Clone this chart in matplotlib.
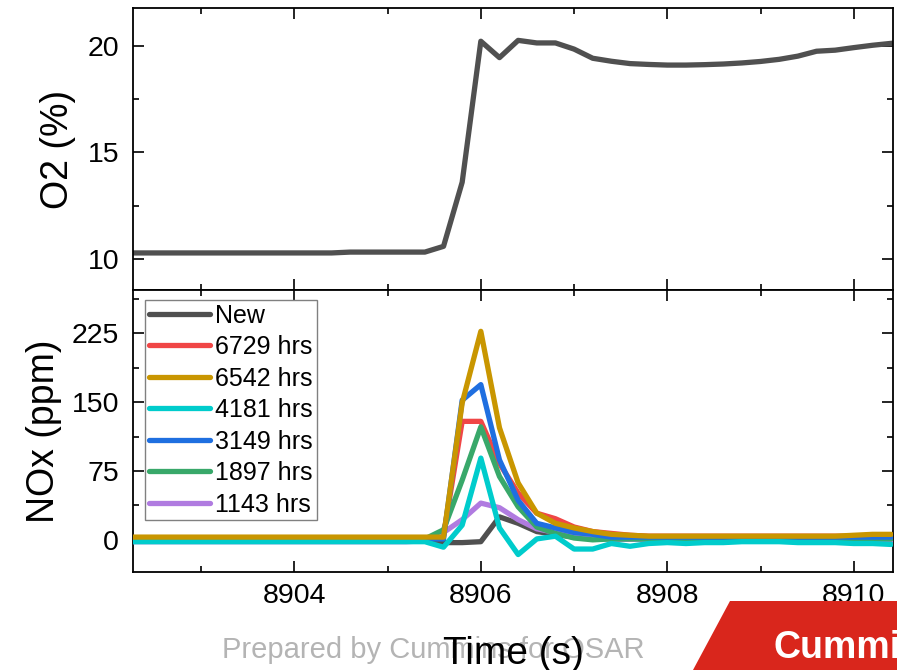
import numpy as np
import matplotlib.pyplot as plt
from matplotlib.ticker import MultipleLocator
from matplotlib.patches import Polygon

plt.rcParams['font.family'] = ['Liberation Sans', 'DejaVu Sans']

# time axis, 5 Hz samples
time = np.round(np.arange(8902.2, 8910.5, 0.2), 1)

o2 = [10.28] * 12 + [10.32] * 5 + [
    10.59, 13.6, 20.22, 19.45, 20.26, 20.14, 20.14, 19.85, 19.42, 19.28,
    19.17, 19.13, 19.1, 19.1, 19.12, 19.15, 19.2, 19.27, 19.37, 19.52,
    19.75, 19.8, 19.92, 20.03, 20.12]

nox_new = [0] * 17 + [-3, -3, -2, 25, 18, 9, 6, 3, 2] + [1] * 16
nox_6729 = [1] * 17 + [5, 129, 129, 83, 51, 29, 23, 14, 9, 7, 5] + [4] * 14
nox_6542 = [3] * 17 + [3, 149, 227, 122, 62, 29, 18, 13, 9, 6, 5] + [4] * 11 + [5, 6, 6]
nox_4181 = [-2] * 16 + [-2, -8, 16, 89, 13, -16, 1, 4, -10, -10, -4, -7, -4, -3, -4,
                        -3, -3, -2, -2, -2, -3, -3, -3, -4, -4, -5]
nox_3149 = [1] * 17 + [1, 152, 169, 87, 43, 18, 13, 8, 6] + [3] * 16
nox_1897 = [0] * 16 + [1, 11, 65, 123, 69, 36, 14, 7, 2, 0] + [1] * 16
nox_1143 = [-2] * 16 + [-1, 8, 22, 40, 35, 22, 12, 8, 5, 3] + [1] * 12 + [0, -1, -1, -1]

labels = ['New', '6729 hrs', '6542 hrs', '4181 hrs', '3149 hrs', '1897 hrs', '1143 hrs']
series = [nox_new, nox_6729, nox_6542, nox_4181, nox_3149, nox_1897, nox_1143]
colors = ['#505050', '#f04646', '#c99600', '#00cccc', '#1f6fe0', '#38a86a', '#b07be0']
zorders = [2, 3, 8, 6, 5, 4, 3.5]

fig = plt.figure(figsize=(8.97, 6.7), dpi=100)
ax1 = fig.add_axes([133 / 897, 380 / 670, 760 / 897, 282 / 670])
ax2 = fig.add_axes([133 / 897, 98 / 670, 760 / 897, 282 / 670])

lw = 3.8
ax1.plot(time, o2, color='#505050', linewidth=lw, solid_joinstyle='round')
for y, lab, c, z in zip(series, labels, colors, zorders):
    ax2.plot(time, y, color=c, linewidth=lw, label=lab, zorder=z,
             solid_joinstyle='round', solid_capstyle='round')

for ax in (ax1, ax2):
    ax.set_xlim(8902.27, 8910.42)
    ax.xaxis.set_major_locator(MultipleLocator(2))
    ax.xaxis.set_minor_locator(MultipleLocator(1))
    ax.tick_params(which='both', direction='in', top=True, right=True,
                   labelsize=20.5, width=1.2)
    ax.tick_params(which='major', length=8)
    ax.tick_params(which='minor', length=4)
    ax.tick_params(axis='y', pad=10)
    ax.tick_params(axis='x', pad=8)
    for s in ax.spines.values():
        s.set_linewidth(1.3)

ax1.set_ylim(8.54, 21.78)
ax1.yaxis.set_major_locator(MultipleLocator(5))
ax1.yaxis.set_minor_locator(MultipleLocator(2.5))
ax1.tick_params(labelbottom=False)
ax1.set_ylabel('O2 (%)', fontsize=27, labelpad=8)

ax2.set_ylim(-35, 272)
ax2.yaxis.set_major_locator(MultipleLocator(75))
ax2.yaxis.set_minor_locator(MultipleLocator(37.5))
ax2.set_ylabel('NOx (ppm)', fontsize=27, labelpad=7)
ax2.set_xlabel('Time (s)', fontsize=28, labelpad=19)

leg = ax2.legend(loc='upper left', bbox_to_anchor=(0.016, 0.965), borderaxespad=0,
                 fontsize=18, handlelength=2.45, handletextpad=0.2,
                 labelspacing=0.3, borderpad=0.15, fancybox=False, framealpha=1)
leg.get_frame().set_edgecolor('#808080')
leg.get_frame().set_linewidth(1.0)
for h in leg.get_lines():
    h.set_solid_capstyle('round')

# watermark (behind the axis label) and logo band
fig.text(222 / 897, 20 / 670, 'Prepared by Cummins for OSAR', fontsize=21,
         color='#b4b4b4', ha='left', va='center', zorder=-1)
logo = Polygon([[730, 69], [897, 69], [897, 0], [693, 0]], closed=True,
               transform=None, facecolor='#d9261c', edgecolor='none')
fig.patches.append(logo)
fig.text(773 / 897, 12 / 670, 'Cummins', fontsize=27, fontweight='bold',
         color='white', ha='left', va='baseline')

fig.savefig('out.png', dpi=100)
